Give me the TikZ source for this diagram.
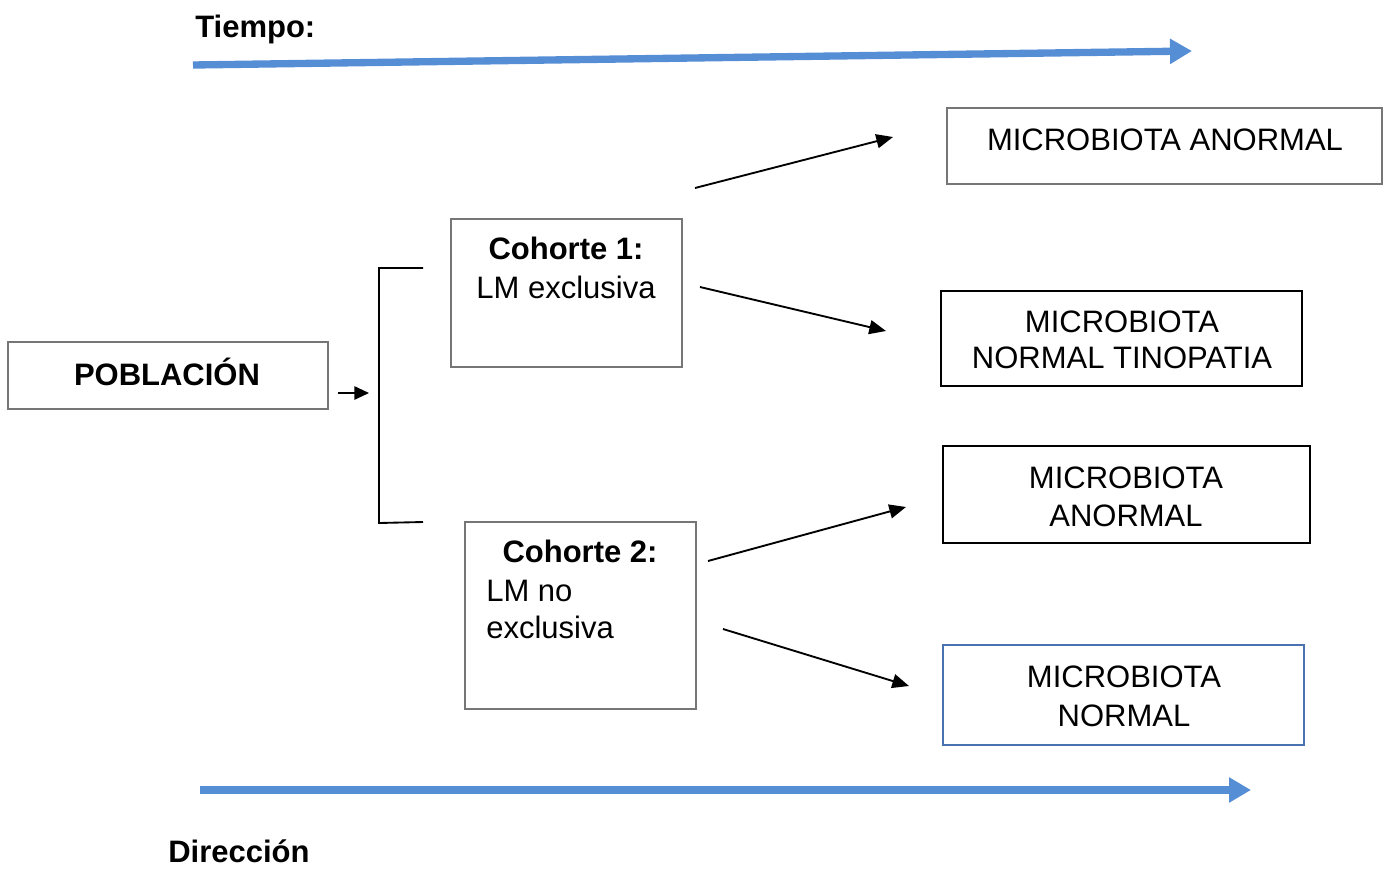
\documentclass[tikz,border=0pt]{standalone}
\usepackage{fontspec}
\setmainfont{Liberation Sans}
\usetikzlibrary{arrows.meta,fit}
\definecolor{arrowblue}{HTML}{558ED5}
\definecolor{boxgray}{HTML}{767676}
\definecolor{boxblue}{HTML}{4A72B0}
\begin{document}
\begin{tikzpicture}[x=0.75pt,y=-0.75pt,
  every node/.style={font=\fontsize{23.25}{28}\selectfont},
  txt/.style={inner sep=0pt, anchor=base},
  txtl/.style={inner sep=0pt, anchor=base west},
  graybox/.style={draw=boxgray, line width=1.9pt, inner sep=0pt},
  blackbox/.style={draw=black, line width=1.5pt, inner sep=0pt},
  bluebox/.style={draw=boxblue, line width=1.5pt, inner sep=0pt},
  bigarrow/.style={draw=arrowblue, line width=5.5pt, -{Triangle[length=16.5pt,width=18pt]}},
  thinarrow/.style={draw=black, line width=1.4pt, -{Triangle[length=12.5pt,width=10.5pt]}},
  bracketline/.style={draw=black, line width=1.4pt}
]
\useasboundingbox (0,0) rectangle (1389,868);

% time arrows
\coordinate (t1) at (193,65);
\coordinate (t2) at (1192,51);
\draw[bigarrow] (t1) -- (t2);
\node[txtl, font=\fontsize{23.25}{28}\selectfont\bfseries] (tiempo) at (195,37) {Tiempo:};

\coordinate (d1) at (200,790);
\coordinate (d2) at (1251,790);
\draw[bigarrow] (d1) -- (d2);
\node[txtl, font=\fontsize{23.25}{28}\selectfont\bfseries] (direccion) at (168,862) {Dirección};

% poblacion
\node[graybox, fit={(8,342)(328,409)}] (pob) {};
\node[txt, font=\fontsize{23.25}{28}\selectfont\bfseries] (pobt) at (167,385) {POBLACIÓN};
\coordinate (pa1) at (338,393);
\coordinate (pa2) at (369,393);
\draw[thinarrow, -{Triangle[length=11pt,width=10pt]}] (pa1) -- (pa2);

% bracket
\coordinate (b1) at (423,268);
\coordinate (b2) at (379,268);
\coordinate (b3) at (379,523);
\coordinate (b4) at (423,522);
\draw[bracketline] (b1) -- (b2) -- (b3) -- (b4);

% cohorte 1
\node[graybox, fit={(451,219)(682,367)}] (c1) {};
\node[txt, font=\fontsize{23.25}{28}\selectfont\bfseries] (c1a) at (566,259) {Cohorte 1:};
\node[txt] (c1b) at (566,298) {LM exclusiva};

% cohorte 2
\node[graybox, fit={(465,522)(696,709)}] (c2) {};
\node[txt, font=\fontsize{23.25}{28}\selectfont\bfseries] (c2a) at (580,562) {Cohorte 2:};
\node[txtl] (c2b) at (486,601) {LM no};
\node[txtl] (c2c) at (486,638) {exclusiva};

% outcome boxes
\node[graybox, fit={(947,108)(1382,184)}] (o1) {};
\node[txt] (o1t) at (1165,150) {MICROBIOTA ANORMAL};

\node[blackbox, fit={(941,291)(1302,386)}] (o2) {};
\node[txt] (o2a) at (1122,332) {MICROBIOTA};
\node[txt] (o2b) at (1122,368) {NORMAL TINOPATIA};

\node[blackbox, fit={(943,446)(1310,543)}] (o3) {};
\node[txt] (o3a) at (1126,488) {MICROBIOTA};
\node[txt] (o3b) at (1126,526) {ANORMAL};

\node[bluebox, fit={(943,645)(1304,745)}] (o4) {};
\node[txt] (o4a) at (1124,687) {MICROBIOTA};
\node[txt] (o4b) at (1124,726) {NORMAL};

% arrows to outcomes
\coordinate (a1s) at (695,188);
\coordinate (a1e) at (893,137);
\coordinate (a2s) at (700,287);
\coordinate (a2e) at (886,331);
\coordinate (a3s) at (708,561);
\coordinate (a3e) at (906,507);
\coordinate (a4s) at (723,629);
\coordinate (a4e) at (909,686);
\draw[thinarrow] (a1s) -- (a1e);
\draw[thinarrow] (a2s) -- (a2e);
\draw[thinarrow] (a3s) -- (a3e);
\draw[thinarrow] (a4s) -- (a4e);
\end{tikzpicture}
\end{document}
